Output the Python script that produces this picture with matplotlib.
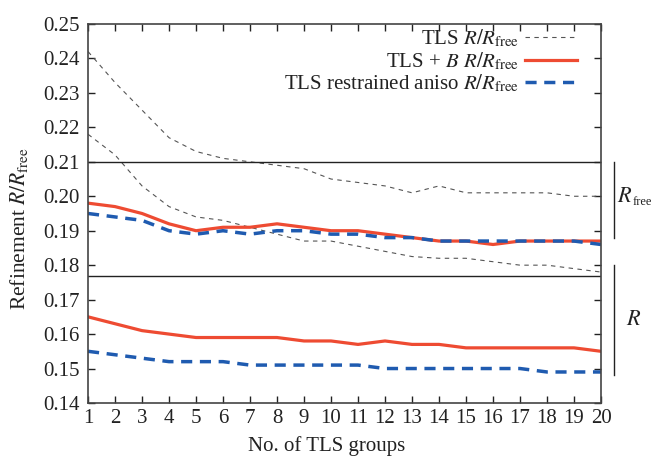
import matplotlib
matplotlib.use("Agg")
import matplotlib.pyplot as plt
import matplotlib.transforms as mtransforms

plt.rcParams['font.family'] = ['Liberation Serif', 'DejaVu Serif']
plt.rcParams['mathtext.fontset'] = 'stix'

groups = list(range(1, 21))
tls_rfree = [0.242, 0.233, 0.225, 0.217, 0.213, 0.211, 0.210, 0.209, 0.208, 0.205,
             0.204, 0.203, 0.201, 0.203, 0.201, 0.201, 0.201, 0.201, 0.200, 0.200]
tls_r = [0.218, 0.212, 0.203, 0.197, 0.194, 0.193, 0.191, 0.189, 0.187, 0.187,
         0.1855, 0.184, 0.1825, 0.182, 0.182, 0.181, 0.180, 0.180, 0.179, 0.178]
tlsb_rfree = [0.198, 0.197, 0.195, 0.192, 0.190, 0.191, 0.191, 0.192, 0.191, 0.190,
              0.190, 0.189, 0.188, 0.187, 0.187, 0.186, 0.187, 0.187, 0.187, 0.187]
tlsb_r = [0.165, 0.163, 0.161, 0.160, 0.159, 0.159, 0.159, 0.159, 0.158, 0.158,
          0.157, 0.158, 0.157, 0.157, 0.156, 0.156, 0.156, 0.156, 0.156, 0.155]
aniso_rfree = [0.195, 0.194, 0.193, 0.190, 0.189, 0.190, 0.189, 0.190, 0.190, 0.189,
               0.189, 0.188, 0.188, 0.187, 0.187, 0.187, 0.187, 0.187, 0.187, 0.186]
aniso_r = [0.155, 0.154, 0.153, 0.152, 0.152, 0.152, 0.151, 0.151, 0.151, 0.151,
           0.151, 0.150, 0.150, 0.150, 0.150, 0.150, 0.150, 0.149, 0.149, 0.149]
yticks = [0.14, 0.15, 0.16, 0.17, 0.18, 0.19, 0.20, 0.21, 0.22, 0.23, 0.24, 0.25]
separators = [0.21, 0.177]

red = '#ee4b32'
blue = '#1f5bb0'
grey = '#555555'
ink = '#222222'

fig = plt.figure(figsize=(6.54, 4.57), dpi=100)
ax = fig.add_axes([0.1346, 0.1182, 0.7844, 0.8293])

ax.plot(groups, tls_rfree, color=grey, lw=0.8, ls=(0, (4, 4)), label='TLS $R/R_{\\mathrm{free}}$')
ax.plot(groups, tls_r, color=grey, lw=0.8, ls=(0, (4, 4)))
ax.plot(groups, tlsb_rfree, color=red, lw=2.3, label='TLS + $B$ $R/R_{\\mathrm{free}}$')
ax.plot(groups, tlsb_r, color=red, lw=2.3)
ax.plot(groups, aniso_rfree, color=blue, lw=2.5, ls=(0, (3.2, 2.2)),
        label='TLS restrained aniso $R/R_{\\mathrm{free}}$')
ax.plot(groups, aniso_r, color=blue, lw=2.5, ls=(0, (3.2, 2.2)))

for s in separators:
    ax.axhline(s, color=ink, lw=1.0)

ax.set_xlim(1, 20)
ax.set_ylim(0.14, 0.25)
ax.set_xticks(groups)
ax.set_yticks(yticks)
ax.set_yticklabels([f'{v:.2f}' for v in yticks])
ax.tick_params(direction='in', top=True, right=True, length=5, width=1.0,
               labelsize=15, colors=ink, labelcolor=ink)
ax.tick_params(axis='x', pad=4)
ax.tick_params(axis='y', pad=6)
for sp in ax.spines.values():
    sp.set_color('#444444')
    sp.set_linewidth(1.2)

ax.set_xlabel('No. of TLS groups', fontsize=15, color=ink)
ax.xaxis.label.set_va('bottom')
ax.xaxis.set_label_coords(0.5, 1.0 / 457, transform=fig.transFigure)
ax.set_ylabel('Refinement $R/R_{\\mathrm{free}}$', fontsize=15.5, color=ink)
ax.yaxis.set_label_coords(-0.113, 0.46)

leg = ax.legend(loc='upper right', frameon=False, fontsize=15, markerfirst=False,
                handlelength=2.5, handletextpad=0.3, labelspacing=0.05,
                borderaxespad=0.0, bbox_to_anchor=(0.97, 1.013))
for t in leg.get_texts():
    t.set_color(ink)

trans = mtransforms.blended_transform_factory(ax.transAxes, ax.transData)
ax.plot([1.025, 1.025], [0.21, 0.188], transform=trans, color=ink, lw=1.0, clip_on=False)
ax.plot([1.025, 1.025], [0.18, 0.148], transform=trans, color=ink, lw=1.0, clip_on=False)
ax.text(1.032, 0.1995, '$R$', transform=trans, fontsize=16,
        ha='left', va='center', color=ink)
ax.text(1.061, 0.1982, 'free', transform=trans, fontsize=9,
        ha='left', va='center', color=ink)
ax.text(1.048, 0.164, '$R$', transform=trans, fontsize=16,
        ha='left', va='center', color=ink)

fig.savefig('out.png', dpi=100)
